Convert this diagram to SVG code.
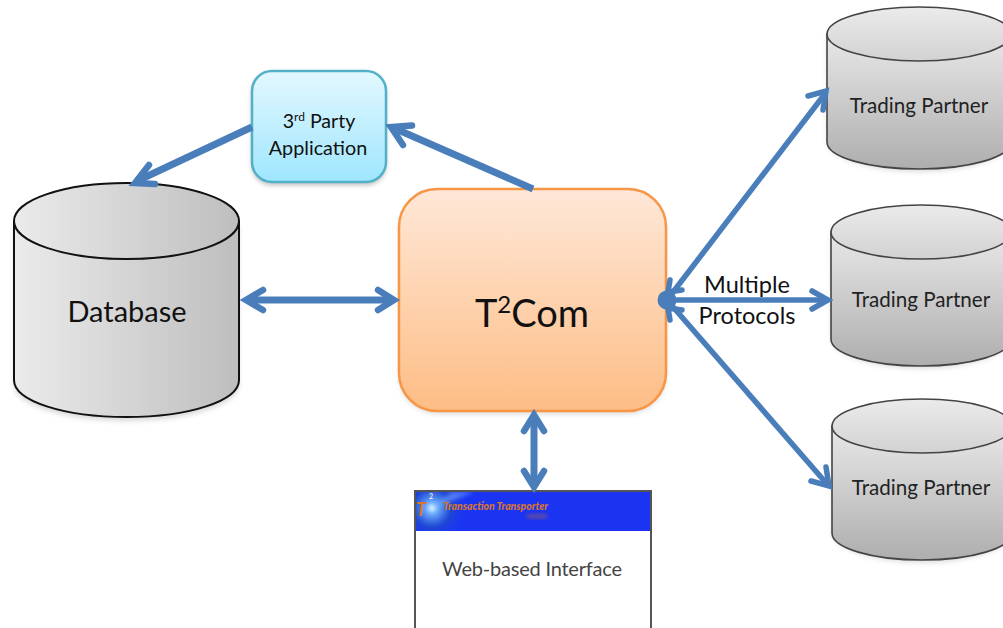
<svg xmlns="http://www.w3.org/2000/svg" width="1003" height="628" viewBox="0 0 1003 628">
<style>
text{font-family:Lato,"Open Sans",sans-serif;fill:#111;text-anchor:middle}
.conn{fill:none;stroke:#4a7ebb;stroke-width:7;stroke-linecap:butt}
.head{fill:none;stroke:#4a7ebb;stroke-width:6.500;stroke-linecap:round;stroke-linejoin:miter}
.thin{stroke-width:5.500}
.cyl{stroke:#111;stroke-width:2}
.cyt{stroke:#444;stroke-width:1.600}
.tp{font-size:20.600px;fill:#222}
</style>
<defs>
<linearGradient id="dbg" x1="0" x2="1" y1="0" y2="0"><stop offset="0" stop-color="#ebebeb"/><stop offset="1" stop-color="#bebebe"/></linearGradient>
<linearGradient id="tpg" x1="0" x2="0" y1="0" y2="1"><stop offset="0" stop-color="#e8e8e8"/><stop offset="1" stop-color="#aeaeae"/></linearGradient>
<linearGradient id="tpt" x1="0" x2="0" y1="0" y2="1"><stop offset="0" stop-color="#ebebeb"/><stop offset="1" stop-color="#d2d2d2"/></linearGradient>
<linearGradient id="bl" x1="0" x2="0" y1="0" y2="1"><stop offset="0" stop-color="#e3f8ff"/><stop offset="1" stop-color="#9fe6fd"/></linearGradient>
<linearGradient id="or" x1="0" x2="0" y1="0" y2="1"><stop offset="0" stop-color="#ffe8d8"/><stop offset="1" stop-color="#fdbd85"/></linearGradient>
<radialGradient id="glow" cx="0.5" cy="0.5" r="0.5"><stop offset="0" stop-color="#e4f8ff"/><stop offset="0.16" stop-color="#6fb0ff"/><stop offset="0.55" stop-color="#1f4cc8" stop-opacity="0.7"/><stop offset="1" stop-color="#1f3cf5" stop-opacity="0"/></radialGradient>
<filter id="sh" x="-10%" y="-10%" width="120%" height="120%"><feGaussianBlur stdDeviation="2.500"/></filter>
<filter id="bl1" x="-30%" y="-100%" width="160%" height="300%"><feGaussianBlur stdDeviation="2"/></filter>
<clipPath id="hdr"><rect x="416" y="492" width="234" height="39"/></clipPath>
</defs>
<rect width="1003" height="628" fill="#fff"/>

<g id="database">
<path d="M14 226V385C14 405 64 421 126.500 421S239 405 239 385V226Z" fill="#999" opacity="0.35" filter="url(#sh)"/>
<path d="M14 221V380C14 401 64 417 126.500 417S239 401 239 380V221Z" fill="url(#dbg)" class="cyl"/>
<ellipse cx="126.500" cy="221" rx="112.500" ry="38" fill="url(#dbg)" class="cyl"/>
<text x="127" y="322" font-size="29">Database</text>
</g>

<g id="partner-1">
<path d="M827 34V142C827 157 868 172 919 172S1011 157 1011 142V34Z" fill="#999" opacity="0.3" filter="url(#sh)"/>
<path d="M827 34V142C827 157 868 169 919 169S1011 157 1011 142V34Z" fill="url(#tpg)" class="cyt"/>
<ellipse cx="919" cy="34" rx="92" ry="27" fill="url(#tpt)" class="cyt"/>
<text class="tp" x="919" y="113">Trading Partner</text>
</g>
<g id="partner-2">
<path d="M831 232V339C831 354 871 369 921 369S1011 354 1011 339V232Z" fill="#999" opacity="0.3" filter="url(#sh)"/>
<path d="M831 232V339C831 354 871 366 921 366S1011 354 1011 339V232Z" fill="url(#tpg)" class="cyt"/>
<ellipse cx="921" cy="232" rx="90" ry="27" fill="url(#tpt)" class="cyt"/>
<text class="tp" x="921" y="307">Trading Partner</text>
</g>
<g id="partner-3">
<path d="M832 426V533C832 548 872 563 922 563S1012 548 1012 533V426Z" fill="#999" opacity="0.3" filter="url(#sh)"/>
<path d="M832 426V533C832 548 872 560 922 560S1012 548 1012 533V426Z" fill="url(#tpg)" class="cyt"/>
<ellipse cx="922" cy="426" rx="90" ry="27" fill="url(#tpt)" class="cyt"/>
<text class="tp" x="921" y="495">Trading Partner</text>
</g>

<g id="third-party">
<rect x="252" y="74" width="134" height="111" rx="20" fill="#777" opacity="0.5" filter="url(#sh)"/>
<rect x="252" y="71" width="134" height="111" rx="20" fill="url(#bl)" stroke="#52b0c8" stroke-width="2.500"/>
<text x="319" y="128" font-size="19.600">3<tspan font-size="12" dy="-7">rd</tspan><tspan dy="7"> Party</tspan></text>
<text x="318" y="155" font-size="19.800">Application</text>
</g>

<g id="t2com">
<rect x="399" y="192" width="267" height="222" rx="38" fill="#999" opacity="0.35" filter="url(#sh)"/>
<rect x="399" y="189" width="267" height="222" rx="38" fill="url(#or)" stroke="#f79646" stroke-width="2.500"/>
<text x="532" y="327" font-size="38">T<tspan font-size="24" dy="-14">2</tspan><tspan dy="14">Com</tspan></text>
</g>

<g id="web-interface">
<rect x="415" y="491" width="236" height="150" fill="#fff" stroke="#555" stroke-width="2"/>
<rect x="416" y="492" width="234" height="39" fill="#1a34f2"/>
<g clip-path="url(#hdr)">
<rect x="396" y="472" width="72" height="72" fill="url(#glow)"/>
<path d="M428 510L474 492H452Z" fill="#7fb4ff" opacity="0.55" filter="url(#bl1)"/>
</g>
<text x="421" y="516" font-size="19" font-style="italic" font-weight="700" style="fill:#d9752d">T</text>
<text x="431" y="499" font-size="7" font-weight="700" style="fill:#e8e8e8">2</text>
<text x="495.500" y="510" font-size="12" font-style="italic" font-weight="900" style="fill:#d9752d" textLength="105" lengthAdjust="spacingAndGlyphs">Transaction Transporter</text>
<rect x="527" y="515" width="20" height="2.500" fill="#c06a3a" opacity="0.8" filter="url(#bl1)"/>
<text x="532" y="576" font-size="20" style="fill:#444" textLength="180">Web-based Interface</text>
</g>

<g id="connectors">
<path class="conn" d="M533 189L396 129"/>
<path class="head" d="M412 125.500L391 127L403 145"/>
<path class="conn" d="M252 127L137 181"/>
<path class="head" d="M149 165L135 183L155 184"/>
<path class="conn" d="M250 300H392"/>
<path class="head" d="M263 290L246 300L263 310M378 290L394 300L378 310"/>
<path class="conn" d="M534 418V484"/>
<path class="head" d="M524 431L534 415L544 431M524 471L534 487L544 471"/>
<path class="conn thin" d="M667 300L824 95"/>
<path class="head thin" d="M808 96L826 91L823 110"/>
<path class="conn thin" d="M667 300H826"/>
<path class="head thin" d="M812 291L828 300L812 309"/>
<path class="conn thin" d="M667 300L827 484"/>
<path class="head thin" d="M826 467L829 486L811 481"/>
<path class="head thin" d="M670 280L668 292L682 290M670 320L668 308L682 310"/>
<circle cx="667" cy="300" r="9.500" fill="#4a7ebb"/>
</g>
<g id="label-protocols">
<text x="747" y="293" font-size="23.500">Multiple</text>
<text x="747" y="324" font-size="23.500">Protocols</text>
</g>
</svg>
